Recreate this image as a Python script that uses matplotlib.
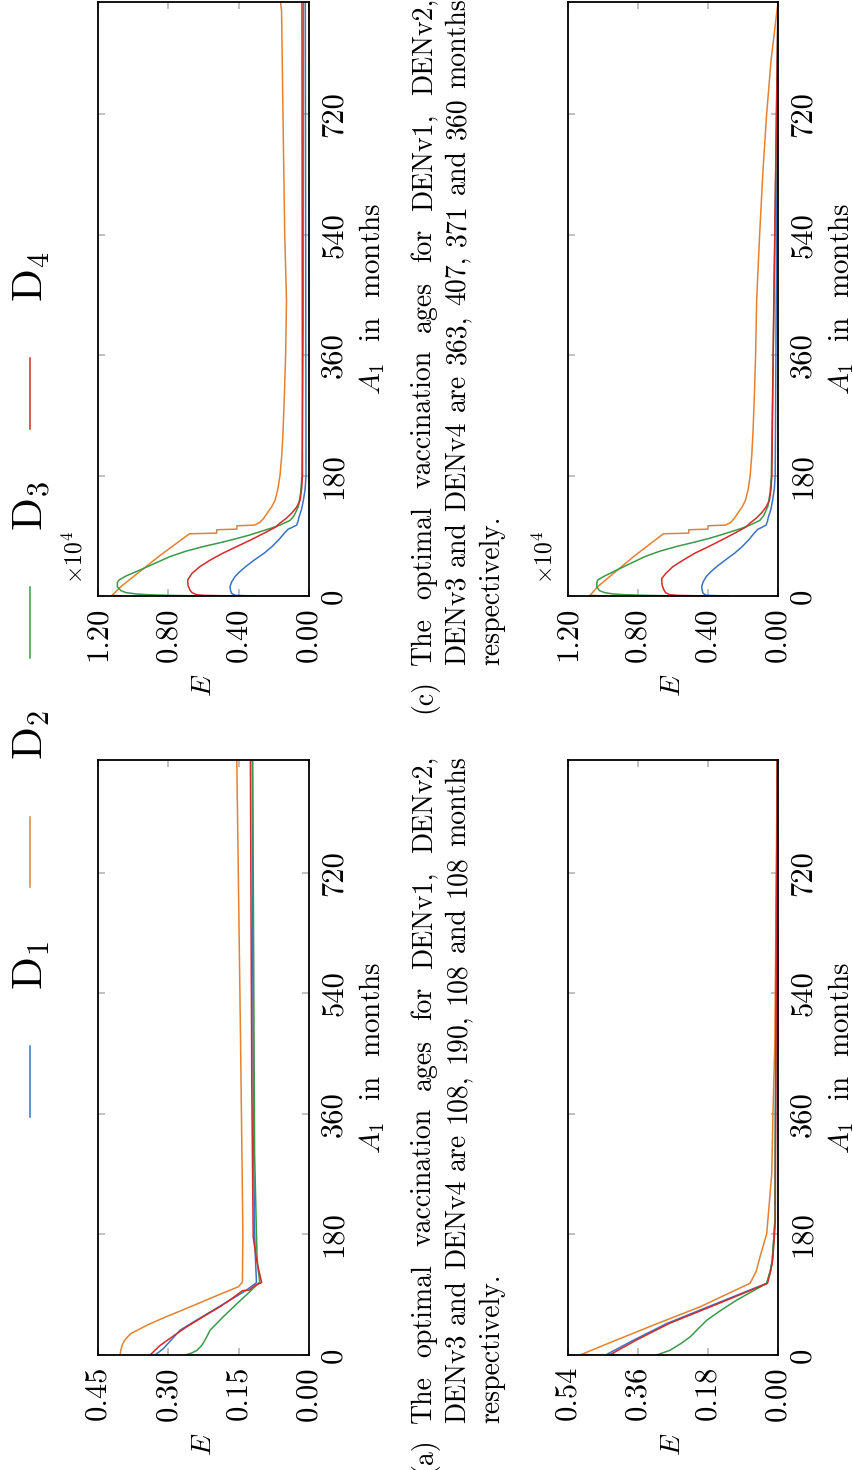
import matplotlib.pyplot as plt
from matplotlib.lines import Line2D

# page is printed sideways: A_1 runs upwards, E runs right-to-left
plt.rcParams['font.family'] = 'cmr10'
plt.rcParams['mathtext.fontset'] = 'cm'
plt.rcParams['axes.unicode_minus'] = False

colors = ['#3b72c2', '#e6812f', '#3a9a48', '#d42a2c']
legend_labels = ['D$_1$', 'D$_2$', 'D$_3$', 'D$_4$']
a_ticks = [0, 180, 360, 540, 720]
a_max = 888

# ---- panel (a) ----
a_a_d1 = [0, 10, 20, 37, 52, 67, 82, 97, 108, 140, 181, 370, 888]
e_a_d1 = [0.328, 0.31, 0.297, 0.275, 0.24, 0.204, 0.168, 0.133, 0.112, 0.114, 0.116, 0.119, 0.121]
a_a_d2 = [0, 4, 8, 13, 17, 22, 27, 32, 45, 57, 67, 77, 90, 102, 109, 182, 470, 888]
e_a_d2 = [0.403, 0.402, 0.401, 0.399, 0.397, 0.393, 0.387, 0.38, 0.344, 0.305, 0.27, 0.236,
          0.192, 0.15, 0.142, 0.141, 0.146, 0.154]
a_a_d3 = [0, 3, 7, 14, 22, 30, 37, 47, 57, 69, 81, 92, 102, 109, 130, 150, 300, 888]
e_a_d3 = [0.264, 0.25, 0.239, 0.229, 0.222, 0.216, 0.211, 0.197, 0.183, 0.165, 0.147, 0.13,
          0.115, 0.105, 0.109, 0.111, 0.116, 0.12]
a_a_d4 = [0, 14, 28, 42, 57, 72, 85, 96, 97, 104, 108, 142, 176, 400, 888]
e_a_d4 = [0.339, 0.318, 0.29, 0.261, 0.226, 0.19, 0.163, 0.142, 0.127, 0.115, 0.101, 0.112,
          0.119, 0.122, 0.125]

# ---- panel (b) ----
a_b_d1 = [0, 1, 22, 47, 77, 107, 125, 140, 170, 200, 888]
e_b_d1 = [0.425, 0.44, 0.372, 0.286, 0.158, 0.029, 0.02, 0.015, 0.011, 0.008, 0.002]
a_b_d2 = [0, 1, 22, 47, 72, 107, 125, 147, 181, 271, 360, 470, 888]
e_b_d2 = [0.466, 0.505, 0.417, 0.31, 0.2, 0.072, 0.056, 0.046, 0.029, 0.016, 0.013, 0.008, 0.002]
a_b_d3 = [0, 7, 17, 27, 40, 52, 67, 82, 95, 107, 125, 140, 200, 888]
e_b_d3 = [0.312, 0.278, 0.25, 0.226, 0.204, 0.183, 0.146, 0.106, 0.066, 0.029, 0.02, 0.015,
          0.008, 0.002]
a_b_d4 = [0, 1, 22, 47, 77, 107, 125, 140, 170, 200, 888]
e_b_d4 = [0.41, 0.43, 0.365, 0.28, 0.152, 0.027, 0.019, 0.014, 0.01, 0.007, 0.002]

# ---- panel (c), E in units of 10^4 ----
a_c_d1 = [0, 1, 4, 9, 14, 21, 29, 36, 44, 54, 64, 74, 84, 94, 98, 100, 102, 106, 112, 118,
          130, 143, 160, 180, 360, 888]
e_c_d1 = [0.307, 0.42, 0.44, 0.447, 0.449, 0.44, 0.421, 0.395, 0.36, 0.31, 0.255, 0.21, 0.172,
          0.14, 0.125, 0.118, 0.1, 0.07, 0.062, 0.057, 0.042, 0.032, 0.022, 0.017, 0.018, 0.021]
a_c_d2 = [0, 1, 14, 36, 60, 93, 94, 99, 100, 105, 106, 110, 116, 123, 133, 143, 160, 180, 210,
          244, 300, 360, 442, 540, 720, 875, 888]
e_c_d2 = [1.056, 1.12, 1.07, 0.965, 0.85, 0.68, 0.525, 0.525, 0.41, 0.41, 0.31, 0.28, 0.258,
          0.24, 0.213, 0.193, 0.177, 0.165, 0.155, 0.148, 0.14, 0.133, 0.128, 0.138, 0.148,
          0.156, 0.162]
a_c_d3 = [0, 1, 2, 3, 5, 8, 14, 20, 24, 30, 39, 49, 59, 67, 74, 80, 86, 91, 96, 101, 106, 113,
          120, 134, 155, 180, 400, 888]
e_c_d3 = [0.6, 0.8, 0.92, 0.98, 1.04, 1.07, 1.09, 1.09, 1.08, 1.04, 0.96, 0.875, 0.79, 0.7,
          0.6, 0.5, 0.41, 0.34, 0.28, 0.22, 0.165, 0.108, 0.085, 0.06, 0.047, 0.04, 0.033, 0.032]
a_c_d4 = [0, 1, 2, 5, 9, 16, 24, 34, 44, 54, 64, 74, 84, 94, 103, 109, 116, 124, 133, 143,
          160, 180, 400, 888]
e_c_d4 = [0.43, 0.6, 0.64, 0.665, 0.677, 0.688, 0.69, 0.665, 0.62, 0.56, 0.49, 0.41, 0.33,
          0.255, 0.19, 0.165, 0.13, 0.098, 0.07, 0.051, 0.042, 0.037, 0.038, 0.04]

# ---- panel (d), E in units of 10^4 ----
a_d_d1 = [0, 1, 4, 9, 14, 21, 29, 36, 44, 54, 64, 74, 84, 94, 98, 100, 102, 106, 112, 118,
          130, 143, 160, 180, 360, 888]
e_d_d1 = [0.284, 0.41, 0.428, 0.434, 0.436, 0.428, 0.41, 0.385, 0.35, 0.3, 0.248, 0.204, 0.167,
          0.136, 0.121, 0.114, 0.097, 0.068, 0.06, 0.055, 0.04, 0.031, 0.021, 0.016, 0.012, 0.0]
a_d_d2 = [0, 1, 14, 36, 60, 93, 94, 99, 100, 105, 106, 110, 116, 123, 133, 143, 160, 180, 210,
          244, 300, 360, 442, 540, 640, 720, 800, 888]
e_d_d2 = [0.979, 1.074, 1.03, 0.93, 0.82, 0.655, 0.51, 0.51, 0.4, 0.4, 0.3, 0.27, 0.25, 0.232,
          0.205, 0.186, 0.17, 0.159, 0.15, 0.143, 0.135, 0.128, 0.122, 0.105, 0.085, 0.065,
          0.04, 0.0]
a_d_d3 = [0, 1, 2, 3, 5, 8, 14, 20, 24, 30, 39, 49, 59, 67, 74, 80, 86, 91, 96, 101, 106, 113,
          120, 134, 155, 180, 400, 888]
e_d_d3 = [0.55, 0.76, 0.88, 0.94, 0.99, 1.02, 1.036, 1.035, 1.03, 0.99, 0.92, 0.84, 0.76, 0.675,
          0.58, 0.485, 0.395, 0.33, 0.27, 0.21, 0.16, 0.104, 0.082, 0.058, 0.045, 0.038, 0.025,
          0.0]
a_d_d4 = [0, 1, 2, 5, 9, 16, 26, 34, 44, 54, 64, 74, 84, 94, 103, 109, 116, 124, 133, 143,
          160, 180, 400, 888]
e_d_d4 = [0.407, 0.58, 0.62, 0.642, 0.652, 0.662, 0.665, 0.64, 0.6, 0.54, 0.475, 0.395, 0.32,
          0.247, 0.184, 0.16, 0.126, 0.095, 0.068, 0.049, 0.04, 0.035, 0.026, 0.0]

caption_a = ['The optimal vaccination ages for DENv1, DENv2,',
             'DENv3 and DENv4 are 108, 190, 108 and 108 months',
             'respectively.']
caption_c = ['The optimal vaccination ages for DENv1, DENv2,',
             'DENv3 and DENv4 are 363, 407, 371 and 360 months',
             'respectively.']

W, H = 854, 1470
fig = plt.figure(figsize=(W / 100, H / 100), dpi=100)


def fx(x):
    return x / W


def fy(y):
    return 1 - y / H


def draw_panel(x0, x1, y0, y1, e_max, e_ticks, curves, factor=False):
    ax = fig.add_axes([fx(x0), fy(y1), fx(x1 - x0), (y1 - y0) / H])
    for (av, ev), c in zip(curves, colors):
        ax.plot(ev, av, color=c, lw=1.1)
    ax.set_xlim(e_max, 0)
    ax.set_ylim(0, a_max)
    ax.set_xticks(e_ticks)
    ax.set_xticklabels(['%.2f' % t for t in e_ticks], rotation=90)
    ax.set_yticks(a_ticks)
    ax.set_yticklabels([str(t) for t in a_ticks], rotation=90, va='center')
    ax.tick_params(direction='in', length=5, width=1.1, color='#b0b0b0',
                   top=True, bottom=True, left=True, right=True,
                   labelleft=False, labelright=True, labelsize=22, pad=8)
    ax.yaxis.set_label_position('right')
    ax.set_ylabel('$A_1$  in  months', fontsize=21, rotation=90, labelpad=7)
    ax.set_xlabel('$E$', fontsize=20, rotation=90, labelpad=9)
    for s in ax.spines.values():
        s.set_linewidth(1.3)
    if factor:
        fig.text(fx(x0 - 16), fy(y1 - 12), r'$\times10^4$', fontsize=17,
                 rotation=90, rotation_mode='anchor', ha='left', va='baseline')
    return ax


draw_panel(98, 309, 760, 1355, 0.45, [0, 0.15, 0.30, 0.45],
           [(a_a_d1, e_a_d1), (a_a_d2, e_a_d2), (a_a_d3, e_a_d3), (a_a_d4, e_a_d4)])
draw_panel(568, 778, 760, 1355, 0.54, [0, 0.18, 0.36, 0.54],
           [(a_b_d1, e_b_d1), (a_b_d2, e_b_d2), (a_b_d3, e_b_d3), (a_b_d4, e_b_d4)])
draw_panel(98, 309, 2, 596, 1.2, [0, 0.4, 0.8, 1.2],
           [(a_c_d1, e_c_d1), (a_c_d2, e_c_d2), (a_c_d3, e_c_d3), (a_c_d4, e_c_d4)], True)
draw_panel(568, 778, 2, 596, 1.2, [0, 0.4, 0.8, 1.2],
           [(a_d_d1, e_d_d1), (a_d_d2, e_d_d2), (a_d_d3, e_d_d3), (a_d_d4, e_d_d4)], True)

# legend row (drawn by hand since it sits sideways)
for i, (lab, c) in enumerate(zip(legend_labels, colors)):
    yb = 1117 - 229.5 * i
    fig.add_artist(Line2D([fx(30), fx(30)], [fy(yb), fy(yb - 71)], color=c, lw=1.1))
    fig.text(fx(43), fy(yb - 127), lab, fontsize=31, rotation=90,
             rotation_mode='anchor', ha='left', va='baseline')

renderer = fig.canvas.get_renderer()


def word_len(t):
    return t.get_window_extent(renderer).height


def caption(tag, lines, y_start, y_end, fs=20):
    bases = [431, 465, 499]
    for k, (line, xb) in enumerate(zip(lines, bases)):
        words = line.split(' ')
        txts = [fig.text(0, 0, w, fontsize=fs, rotation=90, rotation_mode='anchor',
                         ha='left', va='baseline') for w in words]
        lens = [word_len(t) for t in txts]
        if k < len(lines) - 1 and len(words) > 1:
            gap = ((y_start - y_end) - sum(lens)) / (len(words) - 1)
        else:
            gap = fs * 0.33 * 100 / 72
        y = y_start
        for t, L in zip(txts, lens):
            t.set_position((fx(xb), fy(y)))
            y -= L + gap
        if k == 0:
            lt = fig.text(0, 0, tag, fontsize=fs, rotation=90, rotation_mode='anchor',
                          ha='left', va='baseline')
            lt.set_position((fx(xb), fy(y_start + 14 + word_len(lt))))


caption('(a)', caption_a, 1423, 756)
caption('(c)', caption_c, 665, -2)

fig.savefig('out.png', dpi=100)
